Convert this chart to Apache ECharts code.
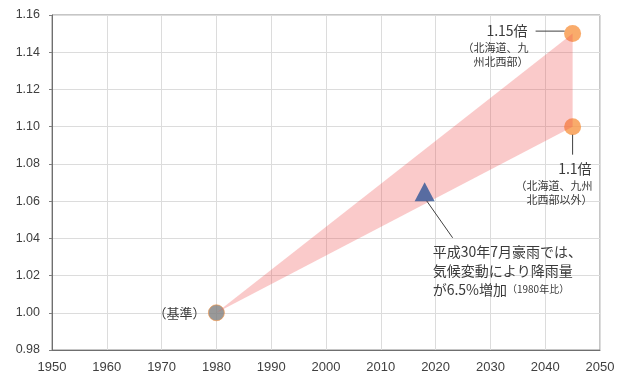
<!DOCTYPE html>
<html><head><meta charset="utf-8">
<script src="https://cdn.jsdelivr.net/npm/echarts@6/dist/echarts.min.js"></script>
<style>html,body{margin:0;padding:0;background:#fff}#c{width:625px;height:376px}</style>
</head><body><div id="c"></div>
<script>
// ---- data ----
const baseYear = [1980];
const baseValue = [1.00];
const eventYear = [2018];
const eventValue = [1.065];
const projYears = [2045, 2045];
const projValues = [1.15, 1.10];
const xMin = 1950, xMax = 2050, xStep = 10;
const yMin = 0.98, yMax = 1.16, yStep = 0.02;
const bandPoints = [[baseYear[0], baseValue[0]], [projYears[0], projValues[0]], [projYears[1], projValues[1]]];

const FONT = '"Noto Sans CJK JP", "Noto Sans", sans-serif';
const TXT = '#3a3a3a';
const chart = echarts.init(document.getElementById('c'), null, {renderer: 'canvas'});

const option = {
  animation: false,
  grid: {left: 52, right: 25, top: 15, bottom: 26, show: true, borderColor: '#8c8c8c', borderWidth: 1},
  xAxis: {
    type: 'value', min: xMin, max: xMax, interval: xStep,
    axisLine: {show: true, lineStyle: {color: '#6f6f6f'}},
    axisTick: {show: false},
    splitLine: {show: true, lineStyle: {color: '#dcdcdc'}},
    axisLabel: {color: '#404040', fontSize: 13, fontFamily: 'Liberation Sans, sans-serif', margin: 11,
      formatter: v => String(v)}
  },
  yAxis: {
    type: 'value', min: yMin, max: yMax, interval: yStep,
    axisLine: {show: true, lineStyle: {color: '#6f6f6f'}},
    axisTick: {show: true, length: 3, lineStyle: {color: '#7f7f7f'}},
    splitLine: {show: true, lineStyle: {color: '#dcdcdc'}},
    axisLabel: {color: '#404040', fontSize: 12.5, fontFamily: 'Liberation Sans, sans-serif', margin: 12,
      formatter: v => v.toFixed(2)}
  },
  series: [
    {
      type: 'scatter', z: 2, symbol: 'circle', symbolSize: 17,
      itemStyle: {color: '#f79646'},
      data: projYears.map((y, i) => [y, projValues[i]])
    },
    {
      type: 'scatter', z: 2, symbol: 'circle', symbolSize: 16,
      itemStyle: {color: '#7f7f7f', borderColor: '#f79646', borderWidth: 0.8},
      data: baseYear.map((y, i) => [y, baseValue[i]])
    },
    {
      type: 'custom', z: 3,
      data: [0],
      renderItem: function (params, api) {
        const pts = bandPoints.map(p => api.coord(p));
        return {type: 'polygon', shape: {points: pts}, style: {fill: 'rgba(240,80,80,0.3)'}};
      }
    },
    {
      type: 'scatter', z: 4, symbol: 'triangle', symbolSize: [20, 19],
      itemStyle: {color: '#2f5597'},
      data: eventYear.map((y, i) => [y, eventValue[i]])
    }
  ]
};
chart.setOption(option);

// annotations anchored to data points
const pHi = chart.convertToPixel({gridIndex: 0}, [projYears[0], projValues[0]]);
const pLo = chart.convertToPixel({gridIndex: 0}, [projYears[1], projValues[1]]);
const pBase = chart.convertToPixel({gridIndex: 0}, [baseYear[0], baseValue[0]]);
const pEv = chart.convertToPixel({gridIndex: 0}, [eventYear[0], eventValue[0]]);

const lineStyle = {stroke: '#404040', lineWidth: 1};
chart.setOption({
  graphic: [
    // 1.15 label
    {type: 'line', shape: {x1: pHi[0] - 37, y1: pHi[1] - 2.5, x2: pHi[0] - 8, y2: pHi[1] - 2.5}, style: lineStyle, z: 10},
    {type: 'text', x: pHi[0] - 45, y: pHi[1] - 3, style: {text: '1.15倍', fill: TXT, font: '14px ' + FONT, align: 'right', verticalAlign: 'middle'}, z: 10},
    {type: 'text', x: pHi[0] - 44, y: pHi[1] + 7, style: {text: '（北海道、九\n州北西部）', fill: TXT, font: '11px ' + FONT, align: 'right', verticalAlign: 'top', lineHeight: 14}, z: 10},
    // 1.1 label
    {type: 'line', shape: {x1: pLo[0], y1: pLo[1] + 8, x2: pLo[0], y2: pLo[1] + 28}, style: lineStyle, z: 10},
    {type: 'text', x: pLo[0] + 19, y: pLo[1] + 42, style: {text: '1.1倍', fill: TXT, font: '14px ' + FONT, align: 'right', verticalAlign: 'middle'}, z: 10},
    {type: 'text', x: pLo[0] + 20, y: pLo[1] + 52, style: {text: '（北海道、九州\n北西部以外）', fill: TXT, font: '11px ' + FONT, align: 'right', verticalAlign: 'top', lineHeight: 14}, z: 10},
    // base label
    {type: 'text', x: pBase[0] - 11, y: pBase[1], style: {text: '（基準）', fill: TXT, font: '13px ' + FONT, align: 'right', verticalAlign: 'middle'}, z: 10},
    // event annotation
    {type: 'line', shape: {x1: pEv[0] + 2, y1: pEv[1] + 9, x2: pEv[0] + 28, y2: pEv[1] + 46}, style: lineStyle, z: 10},
    {type: 'text', x: pEv[0] + 8, y: pEv[1] + 50, style: {
      text: '平成30年7月豪雨では、\n気候変動により降雨量\nが6.5%増加{s|（1980年比）}',
      fill: TXT, font: '14px ' + FONT, align: 'left', verticalAlign: 'top', lineHeight: 19,
      rich: {s: {fontSize: 10, fontFamily: FONT, fill: TXT, lineHeight: 19}}
    }, z: 10}
  ]
});
</script>
</body></html>
